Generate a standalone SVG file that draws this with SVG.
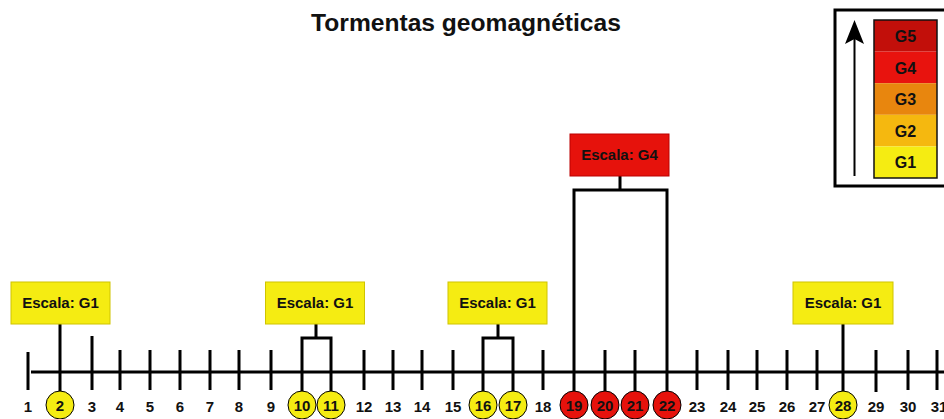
<svg xmlns="http://www.w3.org/2000/svg" width="944" height="419" viewBox="0 0 944 419">
<style>
.t{font-family:"Liberation Sans",Arial,sans-serif;font-weight:bold;fill:#111}
.title{font-size:24.6px;text-anchor:middle}
.num{font-size:15px;text-anchor:middle}
.lbl{font-size:15px;text-anchor:middle}
.leg{font-size:16px;text-anchor:middle}
.ln{stroke:#000;stroke-width:3;fill:none}
.yb{fill:#f5ec12;stroke:#cfc400;stroke-width:1}
.rb{fill:#e6120c;stroke:#b00;stroke-width:1}
.yc{fill:#f5ec12;stroke:#000;stroke-width:1}
.rc{fill:#e6120c;stroke:#000;stroke-width:1}
</style>
<rect width="944" height="419" fill="#fff"/>
<text class="t title" x="466" y="31">Tormentas geomagnéticas</text>

<g id="legend">
<rect x="835" y="10" width="130" height="176" fill="none" stroke="#000" stroke-width="3"/>
<rect x="874" y="20" width="63" height="31.6" fill="#c20f0a"/>
<rect x="874" y="51.6" width="63" height="31.6" fill="#e8130e"/>
<rect x="874" y="83.2" width="63" height="31.6" fill="#e8860e"/>
<rect x="874" y="114.8" width="63" height="31.6" fill="#f5b80f"/>
<rect x="874" y="146.4" width="63" height="31.6" fill="#f5ec12"/>
<rect x="874" y="20" width="63" height="158" fill="none" stroke="#111" stroke-width="1.5"/>
<text class="t leg" x="905.5" y="42">G5</text>
<text class="t leg" x="905.5" y="74">G4</text>
<text class="t leg" x="905.5" y="105">G3</text>
<text class="t leg" x="905.5" y="137">G2</text>
<text class="t leg" x="905.5" y="168">G1</text>
<line x1="854.5" y1="176" x2="854.5" y2="36" stroke="#000" stroke-width="2"/>
<polygon points="854.5,20 845,44 854.5,39 864,44" fill="#000"/>
</g>

<g id="axis">
<line class="ln" x1="31" y1="372" x2="944" y2="372"/>
<path class="ln" d="M28,352V390 M92,336V390 M120,350V390 M150,350V390 M180,350V390 M210,350V390 M239,350V390 M271,350V390 M364,350V390 M393,350V390 M422,350V390 M453,350V390 M543,350V390 M697,350V390 M728,350V390 M757,350V390 M787,350V390 M817,350V390 M876,350V392 M908,350V390 M937,350V390"/>
<g class="t num">
<text x="28" y="412">1</text>
<text x="92" y="412">3</text>
<text x="120" y="412">4</text>
<text x="150" y="412">5</text>
<text x="180" y="412">6</text>
<text x="210" y="412">7</text>
<text x="239" y="412">8</text>
<text x="271" y="412">9</text>
<text x="364" y="412">12</text>
<text x="393" y="412">13</text>
<text x="422" y="412">14</text>
<text x="453" y="412">15</text>
<text x="543" y="412">18</text>
<text x="697" y="412">23</text>
<text x="728" y="412">24</text>
<text x="757" y="412">25</text>
<text x="787" y="412">26</text>
<text x="817" y="412">27</text>
<text x="876" y="412">29</text>
<text x="908" y="412">30</text>
<text x="939" y="412">31</text>
</g>
</g>

<g id="connectors">
<path class="ln" d="M60,324V392"/>
<path class="ln" d="M316,324V338 M302,392V338H331V392"/>
<path class="ln" d="M498,324V338 M483,392V338H513V392"/>
<path class="ln" d="M620,176V190 M574,392V190H667V392 M605,350V392 M635,350V392"/>
<path class="ln" d="M843,324V392"/>
</g>

<g id="box-d2"><rect class="yb" x="11" y="282" width="99" height="42"/><text class="t lbl" x="60.5" y="308">Escala: G1</text></g>
<g id="box-d10-11"><rect class="yb" x="265.5" y="282" width="99" height="42"/><text class="t lbl" x="315" y="308">Escala: G1</text></g>
<g id="box-d16-17"><rect class="yb" x="448" y="282" width="99" height="42"/><text class="t lbl" x="497.5" y="308">Escala: G1</text></g>
<g id="box-d19-22"><rect class="rb" x="570" y="134" width="99" height="42"/><text class="t lbl" x="619.5" y="160">Escala: G4</text></g>
<g id="box-d28"><rect class="yb" x="793" y="282" width="100" height="42"/><text class="t lbl" x="843" y="308">Escala: G1</text></g>

<g id="day2"><circle class="yc" cx="60" cy="405" r="14"/><text class="t num" x="60" y="410.5">2</text></g>
<g id="day10"><circle class="yc" cx="302" cy="405" r="14"/><text class="t num" x="302" y="410.5">10</text></g>
<g id="day11"><circle class="yc" cx="331" cy="405" r="14"/><text class="t num" x="331" y="410.5">11</text></g>
<g id="day16"><circle class="yc" cx="483" cy="405" r="14"/><text class="t num" x="483" y="410.5">16</text></g>
<g id="day17"><circle class="yc" cx="513" cy="405" r="14"/><text class="t num" x="513" y="410.5">17</text></g>
<g id="day19"><circle class="rc" cx="574" cy="405" r="14"/><text class="t num" x="574" y="410.5">19</text></g>
<g id="day20"><circle class="rc" cx="605" cy="405" r="14"/><text class="t num" x="605" y="410.5">20</text></g>
<g id="day21"><circle class="rc" cx="635" cy="405" r="14"/><text class="t num" x="635" y="410.5">21</text></g>
<g id="day22"><circle class="rc" cx="667" cy="405" r="14"/><text class="t num" x="667" y="410.5">22</text></g>
<g id="day28"><circle class="yc" cx="843" cy="405" r="14"/><text class="t num" x="843" y="410.5">28</text></g>
</svg>
